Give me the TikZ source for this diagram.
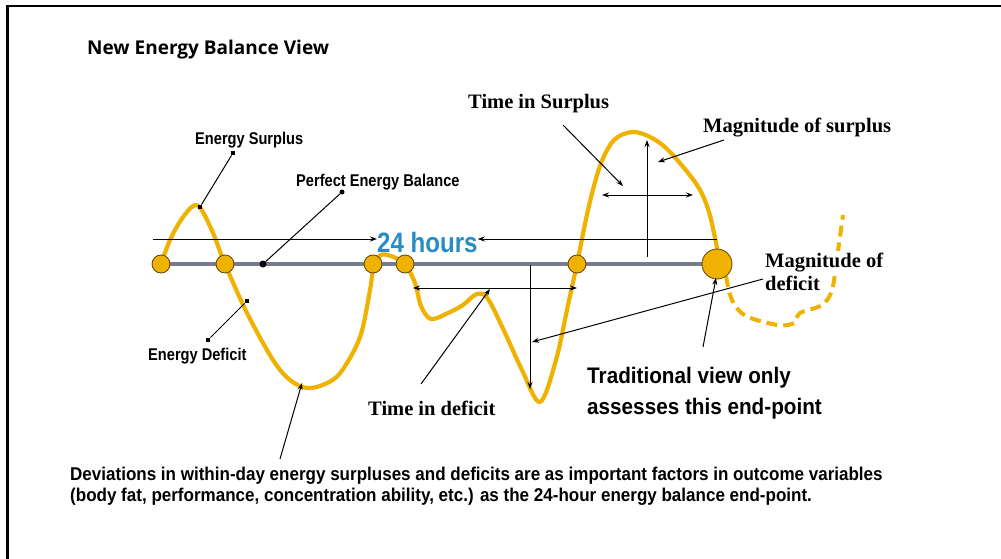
\documentclass[tikz,border=0pt]{standalone}
\usepackage{fontspec}
\setmainfont{Liberation Serif}
\newfontfamily\labelsans[FakeStretch=0.86]{Liberation Sans}
\newfontfamily\notesans[FakeStretch=0.92]{Liberation Sans}
\newfontfamily\bigsans[FakeStretch=0.92]{Liberation Sans}
\newfontfamily\titlefont{Open Sans}
\usetikzlibrary{arrows.meta}

\definecolor{curveyellow}{RGB}{240,178,0}
\definecolor{axisgray}{RGB}{118,124,140}
\definecolor{rimbrown}{RGB}{105,80,20}
\definecolor{hourblue}{RGB}{38,140,195}

\tikzset{
  frameline/.style={line width=2.2pt, black},
  energycurve/.style={curveyellow, line width=4.2pt, line cap=round, line join=round},
  futurecurve/.style={curveyellow, line width=4pt, dash pattern=on 11pt off 6pt},
  axisline/.style={axisgray, line width=3.6pt},
  crossing/.style={circle, fill=curveyellow, draw=rimbrown, line width=0.9pt, inner sep=0pt, minimum size=18pt},
  endpoint/.style={circle, fill=curveyellow, draw=rimbrown, line width=0.9pt, inner sep=0pt, minimum size=30pt},
  pointer/.style={black, line width=1pt, -{Stealth[length=7pt,width=5pt]}},
  span/.style={black, line width=1pt, {Stealth[length=7pt,width=5pt]}-{Stealth[length=7pt,width=5pt]}},
  leader/.style={black, line width=1pt},
  sqdot/.style={rectangle, fill=black, inner sep=0pt, minimum size=4.5pt},
  rddot/.style={circle, fill=black, inner sep=0pt, minimum size=#1},
  sanslabel/.style={font=\labelsans\bfseries\fontsize{17}{20}\selectfont, inner sep=0pt},
  seriflabel/.style={font=\bfseries\fontsize{20.5}{23}\selectfont, inner sep=0pt},
}

\begin{document}
\begin{tikzpicture}[x=1pt,y=-1pt]
\useasboundingbox (0,0) rectangle (1001,559);
\fill[white] (0,0) rectangle (1001,559);

% open frame: left and top edges only
\draw[frameline] (7.5,559) -- (7.5,6) -- (1001,6);

% title
\node[anchor=base west, inner sep=0pt, font=\titlefont\bfseries\fontsize{19}{22}\selectfont] (title) at (87,55) {New Energy Balance View};

% dashed continuation after the end-point
\draw[futurecurve] plot[smooth, tension=0.55] coordinates {(726,276) (732,300) (746,316) (778,325) (794,323) (800,313) (822,305) (832,290) (837,258) (843,215)};

% the balance axis
\coordinate (axL) at (160,264);
\coordinate (axR) at (717,264);
\draw[axisline] (axL) -- (axR);

% within-day energy balance curve
\draw[energycurve] plot[smooth, tension=0.55] coordinates {
 (161,264) (170,240) (181,220) (193,206) (201,209) (213,233) (225,264)
 (247,313) (273,360) (290,380) (307,388) (325,384) (341,372) (360,337) (370,290) (374,264)
 (381,255) (391,256) (405,264)
 (415,283) (421,306) (431,319) (448,313) (463,305) (477,294) (488,299)
 (505,333) (522,370) (540,402)
 (556,360) (568,305) (577,264)
 (588,210) (600,166) (614,140) (633,132) (652,138) (670,152) (697,185) (709,212) (717,248)};

% crossings of the balance line
\node[crossing] (c1) at (161,264) {};
\node[crossing] (c2) at (225,264) {};
\node[crossing] (c3) at (373,264) {};
\node[crossing] (c4) at (405,264) {};
\node[crossing] (c5) at (577,264) {};
\node[endpoint] (ep) at (717,264) {};

% 24 hours span
\coordinate (hL) at (153,239);
\coordinate (hR) at (717,239);
\node[anchor=base west, inner sep=0pt, text=hourblue, font=\labelsans\bfseries\fontsize{28}{30}\selectfont] (hours) at (377,252) {24 hours};
\draw[pointer] (hL) -- (hours.west |- hL);
\draw[pointer] (hR) -- (hours.east |- hR);

% labels with dotted leaders on the left
\node[sanslabel, anchor=base west] (surplusLbl) at (195,145) {Energy Surplus};
\node[sqdot] (sA) at (233,153) {};
\node[sqdot] (sB) at (200,207) {};
\draw[leader] (sA) -- (sB);

\node[sanslabel, anchor=base west] (balanceLbl) at (296,186) {Perfect Energy Balance};
\node[rddot=5pt] (bA) at (342,192) {};
\node[rddot=7pt] (bB) at (263,264) {};
\draw[leader] (bA) -- (bB);

\node[sanslabel, anchor=base west] (deficitLbl) at (148,360) {Energy Deficit};
\node[sqdot] (dA) at (208,340) {};
\node[sqdot] (dB) at (247,301) {};
\draw[leader] (dA) -- (dB);

% deficit measures
\coordinate (tdL) at (413,288);
\coordinate (tdR) at (577,288);
\draw[span] (tdL) -- (tdR);
\coordinate (mdTop) at (530,265);
\coordinate (mdBot) at (530,389);
\draw[pointer] (mdTop) -- (mdBot);

\node[seriflabel, anchor=base west] (tdLbl) at (368,415) {Time in deficit};
\coordinate (tdFoot) at (421,384);
\coordinate (tdTip) at (490,289);
\draw[pointer] (tdFoot) -- (tdTip);

% first line masks the dashed curve behind it
\node[seriflabel, anchor=base west, fill=white, inner ysep=2pt] (mdLbl) at (765,267) {Magnitude of};
\node[seriflabel, anchor=base west] (mdLblB) at (765,290) {deficit};
\coordinate (mdFoot) at (763,279);
\coordinate (mdTip) at (532,342);
\draw[pointer] (mdFoot) -- (mdTip);

% surplus measures
\coordinate (tsL) at (602,195);
\coordinate (tsR) at (693,195);
\draw[span] (tsL) -- (tsR);
\coordinate (msBot) at (647,257);
\coordinate (msTop) at (647,140);
\draw[pointer] (msBot) -- (msTop);

\node[seriflabel, anchor=base west] (tsLbl) at (468,109) {Time in Surplus};
\coordinate (tsFoot) at (563,125);
\coordinate (tsTip) at (623,186);
\draw[pointer] (tsFoot) -- (tsTip);

\node[seriflabel, anchor=base west] (msLbl) at (703,133) {Magnitude of surplus};
\coordinate (msFoot) at (724,140);
\coordinate (msTip) at (658,162);
\draw[pointer] (msFoot) -- (msTip);

% traditional end-point note
\node[anchor=base west, inner sep=0pt, align=left, font=\bigsans\bfseries\fontsize{22.5}{31}\selectfont] (tradLbl) at (587,414) {Traditional view only\\assesses this end-point};
\coordinate (trFoot) at (703,347);
\coordinate (trTip) at (716,278);
\draw[pointer] (trFoot) -- (trTip);

% summary note
\node[anchor=base west, inner sep=0pt, align=left, font=\notesans\bfseries\fontsize{18.5}{21}\selectfont] (noteLbl) at (70,501) {Deviations in within-day energy surpluses and deficits are as important factors in outcome variables\\(body fat, performance, concentration ability, etc.) as the 24-hour energy balance end-point.};
\coordinate (nFoot) at (280,459);
\coordinate (nTip) at (302,383);
\draw[pointer] (nFoot) -- (nTip);
\end{tikzpicture}
\end{document}
